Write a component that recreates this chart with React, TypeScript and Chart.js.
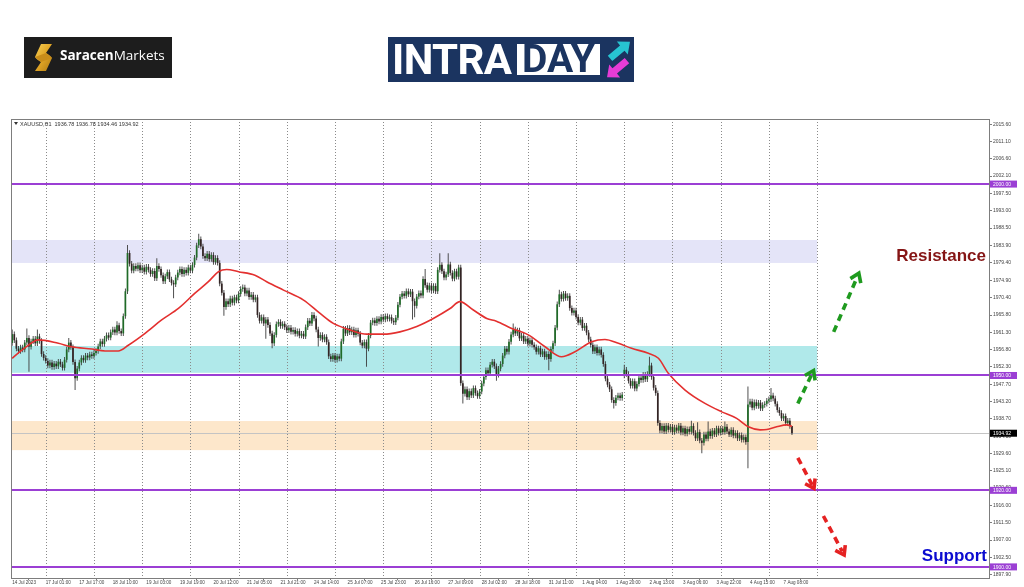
import React, { useEffect, useRef } from 'react';
import { Chart, registerables } from 'chart.js';

Chart.register(...registerables);

// ---------------- data ----------------
const symbolLine = 'XAUUSD,H1  1936.78 1936.78 1934.46 1934.92';
const firstOpen = 1958.5;

const close14Jul = [1960.8, 1959.2, 1957.0, 1956.4, 1957.3, 1956.8, 1958.6, 1959.8, 1957.5, 1958.9, 1959.6, 1958.4, 1960.2, 1959.0, 1955.6, 1954.6];
const close17Jul = [1953.8, 1952.6, 1953.4, 1952.2, 1953.1, 1952.4, 1953.6, 1952.9, 1952.0, 1954.1, 1956.8, 1958.6, 1957.4, 1953.5, 1949.3, 1951.8, 1953.4, 1954.6, 1954.0, 1955.2, 1954.7, 1955.5, 1955.1];
const close18Jul = [1955.9, 1956.4, 1957.6, 1958.9, 1958.2, 1959.6, 1960.5, 1959.9, 1961.3, 1962.0, 1961.2, 1963.1, 1961.6, 1961.0, 1965.5, 1972.0, 1982.0, 1979.2, 1977.4, 1978.6, 1977.9, 1978.8, 1977.5];
const close19Jul = [1978.2, 1977.1, 1978.4, 1977.6, 1976.5, 1977.3, 1975.4, 1978.6, 1977.8, 1976.2, 1974.6, 1975.9, 1977.0, 1975.1, 1974.2, 1973.8, 1975.6, 1976.9, 1977.8, 1976.5, 1977.6, 1976.8, 1978.2];
const close20Jul = [1977.4, 1978.9, 1980.8, 1984.0, 1985.6, 1983.7, 1981.2, 1980.6, 1981.8, 1980.4, 1981.5, 1979.6, 1980.7, 1979.4, 1974.0, 1971.6, 1967.9, 1969.4, 1968.6, 1970.1, 1969.0, 1970.4, 1969.6];
const close21Jul = [1971.3, 1972.6, 1973.0, 1971.4, 1972.2, 1970.5, 1971.1, 1969.8, 1970.4, 1965.8, 1964.3, 1965.2, 1963.6, 1964.6, 1963.2, 1961.0, 1958.4, 1960.6, 1963.4, 1964.0, 1962.9, 1963.5, 1962.6];
const close24Jul = [1961.8, 1962.5, 1961.4, 1961.9, 1960.9, 1961.6, 1960.4, 1960.9, 1960.2, 1962.6, 1964.3, 1963.6, 1965.8, 1964.9, 1962.0, 1959.8, 1960.6, 1959.4, 1960.1, 1958.7, 1955.0, 1954.3, 1955.2];
const close25Jul = [1954.1, 1955.0, 1954.4, 1958.9, 1962.2, 1961.0, 1962.4, 1961.3, 1962.0, 1960.6, 1961.8, 1960.9, 1958.6, 1957.8, 1958.7, 1957.0, 1960.4, 1963.8, 1964.4, 1963.7, 1964.8, 1964.1, 1965.3];
const close26Jul = [1964.6, 1965.5, 1964.8, 1965.2, 1964.3, 1963.9, 1965.1, 1968.5, 1970.6, 1971.4, 1970.8, 1972.0, 1971.2, 1971.9, 1969.4, 1968.2, 1970.6, 1971.5, 1970.9, 1975.2, 1973.6, 1972.4, 1973.5];
const close27Jul = [1972.2, 1973.4, 1972.0, 1977.6, 1978.9, 1977.2, 1975.6, 1976.4, 1979.0, 1976.8, 1975.3, 1977.2, 1975.8, 1978.2, 1948.0, 1945.2, 1946.4, 1944.3, 1945.9, 1944.8, 1946.7, 1945.4, 1944.6];
const close28Jul = [1945.8, 1947.9, 1949.6, 1951.4, 1950.6, 1952.8, 1953.6, 1952.4, 1950.2, 1951.8, 1953.0, 1955.2, 1957.0, 1956.2, 1958.8, 1960.7, 1962.0, 1961.0, 1961.8, 1959.7, 1960.4, 1958.9, 1959.6];
const close31Jul = [1958.3, 1959.2, 1958.0, 1957.4, 1956.2, 1957.1, 1955.5, 1956.3, 1954.8, 1955.6, 1954.3, 1956.9, 1958.4, 1962.5, 1968.6, 1971.2, 1970.0, 1971.4, 1970.2, 1970.8, 1967.6, 1966.4, 1967.0];
const close1Aug = [1965.3, 1963.8, 1964.6, 1962.4, 1963.0, 1961.2, 1959.4, 1958.0, 1956.3, 1957.4, 1955.9, 1956.8, 1955.4, 1953.0, 1949.2, 1947.6, 1946.4, 1943.6, 1942.8, 1944.2, 1944.8, 1944.1, 1945.0];
const close2Aug = [1951.5, 1950.4, 1948.6, 1947.3, 1948.5, 1946.6, 1947.8, 1949.4, 1948.8, 1950.2, 1949.0, 1950.4, 1952.6, 1949.6, 1946.8, 1945.4, 1937.6, 1935.6, 1936.8, 1935.4, 1936.9, 1935.8, 1936.6];
const close3Aug = [1935.2, 1936.4, 1935.6, 1936.9, 1935.1, 1936.2, 1934.8, 1936.0, 1935.3, 1936.8, 1935.0, 1933.6, 1935.2, 1933.0, 1932.4, 1934.6, 1933.5, 1935.4, 1934.2, 1935.6, 1934.6, 1936.2, 1935.0];
const close4Aug = [1936.1, 1935.2, 1936.6, 1935.4, 1934.6, 1935.8, 1934.3, 1935.0, 1933.6, 1934.4, 1933.2, 1933.9, 1932.6, 1942.4, 1943.2, 1941.6, 1943.0, 1942.0, 1942.9, 1941.4, 1942.3, 1942.6, 1943.4];
const close7Aug = [1943.8, 1944.8, 1944.0, 1942.6, 1941.0, 1940.2, 1938.8, 1939.4, 1937.6, 1938.2, 1936.78, 1934.92];

// bars whose open differs from the previous close (gap)
const gapOpens: [number, number][] = [[292, 1950.0]];
// long wicks: [bar, price]
const spikeHighs: [number, number][] = [
  [0, 1962.0], [7, 1962.3], [12, 1962.0], [27, 1959.8], [50, 1964.2], [55, 1984.1], [69, 1980.6],
  [89, 1987.0], [110, 1973.8], [143, 1966.6], [197, 1977.8], [204, 1981.9], [208, 1981.9],
  [239, 1963.6], [261, 1972.4], [292, 1952.8], [304, 1954.9], [324, 1938.2], [327, 1937.8],
  [332, 1938.0], [340, 1938.0], [351, 1947.1], [362, 1946.7], [372, 1936.78],
];
const spikeLows: [number, number][] = [
  [8, 1951.0], [30, 1946.2], [77, 1970.2], [101, 1965.6], [121, 1959.6], [124, 1957.1], [146, 1957.6],
  [169, 1952.3], [191, 1964.6], [192, 1965.2], [215, 1942.7], [231, 1948.6], [256, 1951.4],
  [287, 1941.4], [329, 1929.7], [351, 1925.8], [372, 1934.46],
];

// moving average: bar index / price
const maBars = [0, 6, 12.5, 22, 28.4, 38, 44.3, 50.6, 55.4, 63.4, 71.3, 79.3, 87.2, 93.6, 98.4, 102.3, 108, 115.8, 121.4, 129.4, 139, 146.9, 153.2, 161.2, 169.1, 177.1, 185, 193, 200.9, 208.9, 213.6, 220, 226.4, 231, 238.3, 246.2, 254.2, 262.1, 268.5, 276.4, 282.8, 289.2, 295.5, 303.5, 308.3, 313, 321, 330.5, 338.5, 345.6, 351.2, 356.8, 360, 364.7, 369.5, 372];
const maValues = [1954.5, 1957.2, 1959.3, 1958.4, 1957.5, 1956.9, 1956.4, 1956.4, 1957.9, 1961.0, 1964.5, 1967.5, 1971.5, 1974.5, 1977.1, 1977.7, 1977.1, 1976.2, 1974.5, 1972.3, 1969.7, 1966.2, 1963.6, 1961.9, 1960.8, 1960.8, 1961.4, 1962.8, 1964.9, 1967.5, 1969.3, 1967.1, 1964.9, 1964.2, 1962.3, 1960.6, 1957.5, 1954.9, 1956.2, 1958.8, 1959.4, 1958.4, 1957.1, 1955.8, 1954.5, 1950.6, 1946.2, 1942.7, 1940.5, 1938.8, 1936.6, 1935.8, 1935.9, 1936.6, 1937.1, 1936.7];

const xTickBars = [0, 16, 32, 48, 64, 80, 96, 112, 128, 144, 160, 176, 192, 208, 224, 240, 256, 272, 288, 304, 320, 336, 352, 368];
const xTickLabels = ['14 Jul 2023', '17 Jul 01:00', '17 Jul 17:00', '18 Jul 10:00', '19 Jul 03:00', '19 Jul 19:00', '20 Jul 12:00', '21 Jul 05:00', '21 Jul 21:00', '24 Jul 14:00', '25 Jul 07:00', '25 Jul 23:00', '26 Jul 16:00', '27 Jul 09:00', '28 Jul 02:00', '28 Jul 18:00', '31 Jul 11:00', '1 Aug 04:00', '1 Aug 20:00', '2 Aug 13:00', '3 Aug 06:00', '3 Aug 22:00', '4 Aug 15:00', '7 Aug 08:00'];
const dayStartBars = [16, 39, 62, 85, 108, 131, 154, 177, 200, 223, 246, 269, 292, 315, 338, 361, 384];
const yTickValues = [2015.6, 2011.1, 2006.6, 2002.1, 1997.5, 1993.0, 1988.5, 1983.9, 1979.4, 1974.9, 1970.4, 1965.8, 1961.3, 1956.8, 1952.3, 1947.7, 1943.2, 1938.7, 1934.1, 1929.6, 1925.1, 1920.6, 1916.0, 1911.5, 1907.0, 1902.5, 1897.9];

const levelPrices = [2000, 1950, 1920, 1900];
const lastPrice = 1934.92;
const zoneRanges: [number, number][] = [[1979.4, 1985.4], [1950.7, 1957.7], [1930.5, 1938.1]];
const zoneEndBar = 384;
const bullArrows: [number, number, number, number][] = [[374.8, 1942.7, 382.3, 1951.3], [391.9, 1961.4, 403.9, 1976.7]];
const bearArrows: [number, number, number, number][] = [[374.8, 1928.5, 382.5, 1920.5], [387.0, 1913.3, 396.9, 1903.1]];
const resistanceText = 'Resistance';
const supportText = 'Support';
const resistanceAt = 1979.9;
const supportAt = 1901.6;

// ---------------- view / style ----------------
const X_MIN = -0.57;
const X_MAX = 466.0;
const Y_MIN = 1897.1;
const Y_MAX = 2017.0;
const WICK_PAD = 0.7;
const ZONE_COLORS = ['#e4e4f8', '#b0e9ea', '#fde7cb'];
const LEVEL_COLOR = '#9b3fd4';
const BULL = '#1f6b27';
const BEAR = '#332424';
const WICK = '#3c3c3c';
const AXIS_FONT = 'Liberation Sans, Arial, sans-serif';

const closes = [
  ...close14Jul, ...close17Jul, ...close18Jul, ...close19Jul, ...close20Jul, ...close21Jul,
  ...close24Jul, ...close25Jul, ...close26Jul, ...close27Jul, ...close28Jul,
  ...close31Jul, ...close1Aug, ...close2Aug, ...close3Aug, ...close4Aug, ...close7Aug,
];

function buildCandles() {
  const gap = new Map(gapOpens);
  const hiMap = new Map(spikeHighs);
  const loMap = new Map(spikeLows);
  const bodies: { x: number; y: [number, number] }[] = [];
  const wicks: { x: number; y: [number, number] }[] = [];
  const colors: string[] = [];
  closes.forEach((c, i) => {
    const o = gap.has(i) ? (gap.get(i) as number) : i === 0 ? firstOpen : closes[i - 1];
    const hi = hiMap.has(i) ? (hiMap.get(i) as number) : Math.max(o, c) + WICK_PAD;
    const lo = loMap.has(i) ? (loMap.get(i) as number) : Math.min(o, c) - WICK_PAD;
    bodies.push({ x: i, y: [o, c] });
    wicks.push({ x: i, y: [lo, hi] });
    colors.push(c >= o ? BULL : BEAR);
  });
  return { bodies, wicks, colors };
}

function drawArrow(ctx: CanvasRenderingContext2D, x0: number, y0: number, x1: number, y1: number, color: string) {
  const ang = Math.atan2(y1 - y0, x1 - x0);
  ctx.save();
  ctx.strokeStyle = color;
  ctx.lineWidth = 3.6;
  ctx.lineCap = 'butt';
  ctx.setLineDash([7, 5]);
  ctx.beginPath();
  ctx.moveTo(x0, y0);
  ctx.lineTo(x1 - Math.cos(ang) * 4, y1 - Math.sin(ang) * 4);
  ctx.stroke();
  ctx.setLineDash([]);
  ctx.lineJoin = 'miter';
  const h = 10;
  ctx.beginPath();
  ctx.moveTo(x1 - h * Math.cos(ang - 0.6), y1 - h * Math.sin(ang - 0.6));
  ctx.lineTo(x1, y1);
  ctx.lineTo(x1 - h * Math.cos(ang + 0.6), y1 - h * Math.sin(ang + 0.6));
  ctx.stroke();
  ctx.restore();
}

const overlayPlugin = {
  id: 'mtOverlay',
  beforeDatasetsDraw(chart: any) {
    const { ctx, chartArea: a } = chart;
    const xs = chart.scales.x;
    const ys = chart.scales.y;
    ctx.save();
    const xEnd = xs.getPixelForValue(zoneEndBar);
    zoneRanges.forEach(([lo, hi], i) => {
      const top = ys.getPixelForValue(hi);
      const bot = ys.getPixelForValue(lo);
      ctx.fillStyle = ZONE_COLORS[i];
      ctx.fillRect(a.left, top, xEnd - a.left, bot - top);
    });
    ctx.strokeStyle = '#8a8a8a';
    ctx.lineWidth = 1;
    ctx.setLineDash([1, 2]);
    dayStartBars.forEach((b) => {
      const px = Math.round(xs.getPixelForValue(b)) + 0.5;
      ctx.beginPath();
      ctx.moveTo(px, a.top);
      ctx.lineTo(px, a.bottom);
      ctx.stroke();
    });
    ctx.setLineDash([]);
    const py = Math.round(ys.getPixelForValue(lastPrice)) + 0.5;
    ctx.strokeStyle = '#c4c4c4';
    ctx.beginPath();
    ctx.moveTo(a.left, py);
    ctx.lineTo(a.right, py);
    ctx.stroke();
    ctx.restore();
  },
  afterDatasetsDraw(chart: any) {
    const { ctx, chartArea: a } = chart;
    const xs = chart.scales.x;
    const ys = chart.scales.y;
    ctx.save();
    ctx.strokeStyle = LEVEL_COLOR;
    ctx.lineWidth = 2;
    levelPrices.forEach((v) => {
      const py = Math.round(ys.getPixelForValue(v));
      ctx.beginPath();
      ctx.moveTo(a.left, py);
      ctx.lineTo(a.right, py);
      ctx.stroke();
    });
    bullArrows.forEach(([b0, p0, b1, p1]) =>
      drawArrow(ctx, xs.getPixelForValue(b0), ys.getPixelForValue(p0), xs.getPixelForValue(b1), ys.getPixelForValue(p1), '#1f9a1f'));
    bearArrows.forEach(([b0, p0, b1, p1]) =>
      drawArrow(ctx, xs.getPixelForValue(b0), ys.getPixelForValue(p0), xs.getPixelForValue(b1), ys.getPixelForValue(p1), '#e52222'));

    ctx.font = 'bold 17px "Liberation Sans", Arial, sans-serif';
    ctx.textAlign = 'right';
    ctx.textBaseline = 'alphabetic';
    ctx.fillStyle = '#851515';
    ctx.fillText(resistanceText, a.right - 3, ys.getPixelForValue(resistanceAt));
    ctx.fillStyle = '#0b0bd0';
    ctx.fillText(supportText, a.right - 2, ys.getPixelForValue(supportAt));

    // header
    ctx.fillStyle = '#333';
    ctx.beginPath();
    ctx.moveTo(a.left + 3, a.top + 3);
    ctx.lineTo(a.left + 7, a.top + 3);
    ctx.lineTo(a.left + 5, a.top + 6);
    ctx.closePath();
    ctx.fill();
    ctx.font = '5.5px ' + AXIS_FONT;
    ctx.textAlign = 'left';
    ctx.fillText(symbolLine, a.left + 9, a.top + 7);

    // frame
    ctx.strokeStyle = '#7d7d7d';
    ctx.lineWidth = 1;
    ctx.strokeRect(Math.round(a.left) + 0.5, Math.round(a.top) + 0.5, Math.round(a.right - a.left), Math.round(a.bottom - a.top));
    ctx.restore();
  },
  afterDraw(chart: any) {
    const { ctx, chartArea: a } = chart;
    const ys = chart.scales.y;
    ctx.save();
    ctx.font = '5px ' + AXIS_FONT;
    ctx.textAlign = 'left';
    ctx.textBaseline = 'middle';
    const box = (v: number, fill: string) => {
      const py = ys.getPixelForValue(v);
      ctx.fillStyle = fill;
      ctx.fillRect(a.right + 1, py - 3.5, 27, 7);
      ctx.fillStyle = '#ffffff';
      ctx.fillText(v.toFixed(2), a.right + 4, py + 0.3);
    };
    levelPrices.forEach((v) => box(v, LEVEL_COLOR));
    box(lastPrice, '#000000');
    ctx.restore();
  },
};

function SaracenLogo() {
  return (
    <div style={{ position: 'absolute', left: 24, top: 37, width: 148, height: 41, background: '#1d1d1d' }}>
      <svg style={{ position: 'absolute', left: 10, top: 7 }} width={19} height={27} viewBox="0 0 19 27">
        <defs>
          <linearGradient id="gold" x1="0" y1="0" x2="1" y2="1">
            <stop offset="0" stopColor="#f7cf55" />
            <stop offset="0.5" stopColor="#e0a526" />
            <stop offset="1" stopColor="#b07a12" />
          </linearGradient>
        </defs>
        <path d="M7 0 C12 0 17 0 18 0 C16 3 14 6 12 9 C15 11 17 12 18 14 C16 18 14 23 12 27 L1 27 C3 24 5 21 7 18 C4 16 2 15 1 13 C3 9 5 4 7 0 Z" fill="url(#gold)" />
        <path d="M12 9 L18 14 L7 18 L1 13 Z" fill="#c98d1a" />
      </svg>
      <div style={{ position: 'absolute', left: 36, top: -2, height: 41, lineHeight: '41px', color: '#ffffff', fontFamily: '"Open Sans", sans-serif', fontSize: 13.5, whiteSpace: 'nowrap' }}>
        <span style={{ fontWeight: 700 }}>Saracen</span>
        <span style={{ fontWeight: 400 }}>Markets</span>
      </div>
    </div>
  );
}

function IntradayLogo() {
  return (
    <div style={{ position: 'absolute', left: 388, top: 37, width: 246, height: 45, background: '#1b3460' }}>
      <div style={{ position: 'absolute', left: 4, top: 0, height: 45, lineHeight: '45px', color: '#ffffff', fontFamily: 'Roboto, sans-serif', fontWeight: 700, fontSize: 42, letterSpacing: -0.6, whiteSpace: 'nowrap' }}>
        INTRA
      </div>
      <div style={{ position: 'absolute', left: 129, top: 7, width: 83, height: 31, background: '#ffffff', overflow: 'hidden' }}>
        <div style={{ width: 83, height: 31, lineHeight: '31px', textAlign: 'center', color: '#1b3460', fontFamily: 'Roboto, sans-serif', fontWeight: 700, fontSize: 39, whiteSpace: 'nowrap' }}>
          DAY
        </div>
      </div>
      <svg style={{ position: 'absolute', left: 214, top: 0 }} width={32} height={45} viewBox="0 0 32 45">
        <g transform="translate(18,13) rotate(-40)">
          <polygon points="-13,-3.5 3,-3.5 3,-8.5 13,0 3,8.5 3,3.5 -13,3.5" fill="#27c4d2" />
        </g>
        <g transform="translate(15,32) rotate(140)">
          <polygon points="-13,-3.5 3,-3.5 3,-8.5 13,0 3,8.5 3,3.5 -13,3.5" fill="#e63cd6" />
        </g>
      </svg>
    </div>
  );
}

export default function App() {
  const canvasRef = useRef<HTMLCanvasElement>(null);

  useEffect(() => {
    const canvas = canvasRef.current;
    if (!canvas) return;
    const { bodies, wicks, colors } = buildCandles();
    const maPoints = maBars.map((b, i) => ({ x: b, y: maValues[i] }));

    const chart = new Chart(canvas, {
      type: 'bar',
      data: {
        datasets: [
          {
            type: 'line',
            data: maPoints,
            borderColor: '#e3302f',
            borderWidth: 1.6,
            pointRadius: 0,
            cubicInterpolationMode: 'monotone',
            order: 0,
          } as any,
          {
            type: 'bar',
            data: bodies,
            backgroundColor: colors,
            borderWidth: 0,
            barThickness: 1.7,
            minBarLength: 1,
            grouped: false,
            inflateAmount: 0,
            order: 1,
          } as any,
          {
            type: 'bar',
            data: wicks,
            backgroundColor: WICK,
            borderWidth: 0,
            barThickness: 0.9,
            grouped: false,
            inflateAmount: 0,
            order: 2,
          } as any,
        ],
      },
      options: {
        animation: false,
        responsive: false,
        maintainAspectRatio: false,
        devicePixelRatio: 1,
        events: [],
        layout: { padding: { left: 11, top: 119, right: 0, bottom: 0 } },
        plugins: { legend: { display: false }, tooltip: { enabled: false } },
        scales: {
          x: {
            type: 'linear',
            position: 'bottom',
            min: X_MIN,
            max: X_MAX,
            offset: false,
            bounds: 'data',
            border: { display: false },
            grid: { display: true, drawOnChartArea: false, drawTicks: true, tickLength: 2, color: '#7d7d7d' },
            ticks: {
              autoSkip: false,
              maxRotation: 0,
              minRotation: 0,
              align: 'start',
              padding: 0,
              color: '#444444',
              font: { size: 4.6, family: AXIS_FONT },
              callback: (_v: any, i: number) => xTickLabels[i] ?? '',
            },
            afterBuildTicks: (axis: any) => {
              axis.ticks = xTickBars.map((v) => ({ value: v }));
            },
            afterFit: (axis: any) => {
              axis.height = 9;
            },
          } as any,
          y: {
            type: 'linear',
            position: 'right',
            min: Y_MIN,
            max: Y_MAX,
            bounds: 'data',
            border: { display: false },
            grid: { display: true, drawOnChartArea: false, drawTicks: true, tickLength: 3, color: '#7d7d7d' },
            ticks: {
              padding: 1,
              color: '#444444',
              font: { size: 5, family: AXIS_FONT },
              callback: (v: any) => Number(v).toFixed(2),
            },
            afterBuildTicks: (axis: any) => {
              axis.ticks = yTickValues.map((v) => ({ value: v }));
            },
            afterFit: (axis: any) => {
              axis.width = 35;
            },
          } as any,
        },
      },
      plugins: [overlayPlugin],
    });

    return () => chart.destroy();
  }, []);

  return (
    <div style={{ position: 'absolute', left: 0, top: 0, width: 1024, height: 587, background: '#ffffff', overflow: 'hidden' }}>
      <canvas ref={canvasRef} width={1024} height={587} style={{ position: 'absolute', left: 0, top: 0, width: 1024, height: 587 }} />
      <SaracenLogo />
      <IntradayLogo />
    </div>
  );
}
